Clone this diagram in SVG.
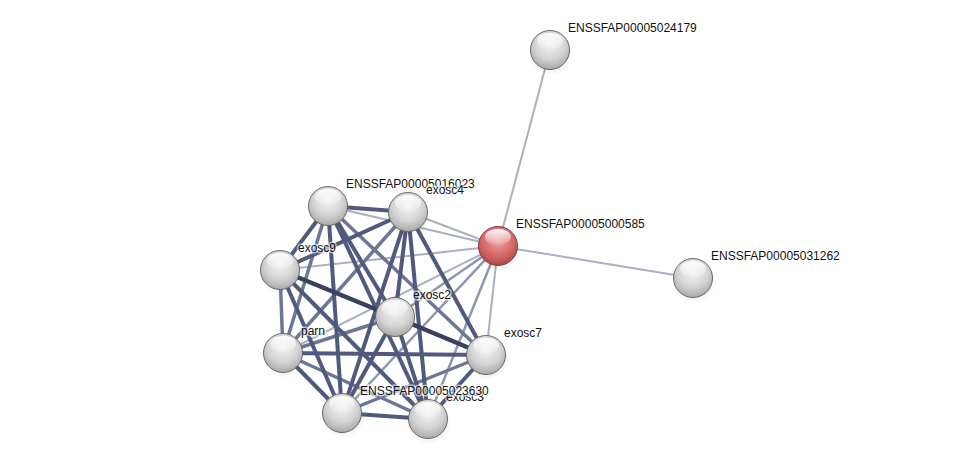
<svg xmlns="http://www.w3.org/2000/svg" width="976" height="465" viewBox="0 0 976 465">
<style>
.e{fill:none;stroke-linecap:butt}
.s{stroke:#394160;stroke-width:4.5}
.m{stroke:#515a7c;stroke-width:4}
.l{stroke:#6e7696;stroke-width:3.5}
.r{stroke:#9096b0;stroke-width:2.5}
.x{stroke:#aab0c2;stroke-width:2}
.lab{font-family:"Liberation Sans",Arial,sans-serif;font-size:12px;fill:#111;stroke:#fff;stroke-width:3;stroke-opacity:0.6;paint-order:stroke}
.n{stroke:#6a6a6a;stroke-width:1}
</style>
<defs>
<radialGradient id="gw" cx="0.5" cy="0.35" r="0.65">
<stop offset="0" stop-color="#f4f4f4"/>
<stop offset="0.6" stop-color="#d4d4d4"/>
<stop offset="1" stop-color="#a8a8a8"/>
</radialGradient>
<radialGradient id="gr" cx="0.5" cy="0.35" r="0.65">
<stop offset="0" stop-color="#f0a4a4"/>
<stop offset="0.6" stop-color="#d66a6a"/>
<stop offset="1" stop-color="#a84a4a"/>
</radialGradient>
<linearGradient id="hl" x1="0" y1="0" x2="0" y2="1">
<stop offset="0" stop-color="#fff" stop-opacity="0.95"/>
<stop offset="1" stop-color="#fff" stop-opacity="0.1"/>
</linearGradient>
<radialGradient id="sh" cx="0.5" cy="0.5" r="0.5">
<stop offset="0" stop-color="#000" stop-opacity="0.25"/>
<stop offset="1" stop-color="#000" stop-opacity="0"/>
</radialGradient>
<g id="ball">
<circle cx="1" cy="3" r="22" fill="url(#sh)"/>
<circle r="19.5" fill="url(#gw)" class="n"/>
<ellipse cx="0" cy="-9" rx="13" ry="8" fill="url(#hl)"/>
</g>
<g id="rball">
<circle cx="1" cy="3" r="22" fill="url(#sh)"/>
<circle r="19.5" fill="url(#gr)" stroke="#8a3a3a" stroke-width="1"/>
<ellipse cx="0" cy="-9" rx="13" ry="8" fill="url(#hl)"/>
</g>
</defs>
<rect width="976" height="465" fill="#fff"/>
<g id="connectors">
<line class="e x" x1="498" y1="246" x2="550" y2="50"/>
<line class="e x" x1="498" y1="246" x2="693" y2="278"/>
<line class="e x" x1="498" y1="246" x2="328" y2="206"/>
<line class="e x" x1="498" y1="246" x2="408" y2="212"/>
<line class="e x" x1="498" y1="246" x2="280" y2="270"/>
<line class="e x" x1="498" y1="246" x2="283" y2="353"/>
<line class="e r" x1="498" y1="246" x2="395" y2="317"/>
<line class="e x" x1="498" y1="246" x2="486" y2="355"/>
<line class="e r" x1="498" y1="246" x2="342" y2="413"/>
<line class="e r" x1="498" y1="246" x2="428" y2="419"/>
<line class="e l" x1="328" y1="206" x2="283" y2="353"/>
<line class="e l" x1="408" y1="212" x2="283" y2="353"/>
<line class="e l" x1="328" y1="206" x2="486" y2="355"/>
<line class="e l" x1="280" y1="270" x2="486" y2="355"/>
<line class="e l" x1="283" y1="353" x2="395" y2="317"/>
<line class="e l" x1="280" y1="270" x2="283" y2="353"/>
<line class="e l" x1="342" y1="413" x2="486" y2="355"/>
<line class="e l" x1="283" y1="353" x2="428" y2="419"/>
<line class="e m" x1="328" y1="206" x2="408" y2="212"/>
<line class="e m" x1="328" y1="206" x2="280" y2="270"/>
<line class="e m" x1="328" y1="206" x2="395" y2="317"/>
<line class="e m" x1="328" y1="206" x2="342" y2="413"/>
<line class="e m" x1="328" y1="206" x2="428" y2="419"/>
<line class="e m" x1="408" y1="212" x2="280" y2="270"/>
<line class="e m" x1="408" y1="212" x2="395" y2="317"/>
<line class="e m" x1="408" y1="212" x2="486" y2="355"/>
<line class="e m" x1="408" y1="212" x2="342" y2="413"/>
<line class="e m" x1="408" y1="212" x2="428" y2="419"/>
<line class="e m" x1="280" y1="270" x2="342" y2="413"/>
<line class="e m" x1="280" y1="270" x2="428" y2="419"/>
<line class="e m" x1="395" y1="317" x2="342" y2="413"/>
<line class="e m" x1="395" y1="317" x2="428" y2="419"/>
<line class="e m" x1="283" y1="353" x2="486" y2="355"/>
<line class="e m" x1="283" y1="353" x2="342" y2="413"/>
<line class="e m" x1="486" y1="355" x2="428" y2="419"/>
<line class="e m" x1="342" y1="413" x2="428" y2="419"/>
<line class="e s" x1="280" y1="270" x2="395" y2="317"/>
<line class="e s" x1="395" y1="317" x2="486" y2="355"/>
</g>
<g id="n_024179"><use href="#ball" x="550" y="50"/><text class="lab" x="568" y="32">ENSSFAP00005024179</text></g>
<g id="n_000585"><use href="#rball" x="498" y="246"/><text class="lab" x="516" y="228">ENSSFAP00005000585</text></g>
<g id="n_031262"><use href="#ball" x="693" y="278"/><text class="lab" x="711" y="260">ENSSFAP00005031262</text></g>
<g id="n_016023"><use href="#ball" x="328" y="206"/><text class="lab" x="346" y="188">ENSSFAP00005016023</text></g>
<g id="n_exosc4"><use href="#ball" x="408" y="212"/><text class="lab" x="426" y="194">exosc4</text></g>
<g id="n_exosc9"><use href="#ball" x="280" y="270"/><text class="lab" x="298" y="252">exosc9</text></g>
<g id="n_exosc2"><use href="#ball" x="395" y="317"/><text class="lab" x="413" y="299">exosc2</text></g>
<g id="n_parn"><use href="#ball" x="283" y="353"/><text class="lab" x="301" y="335">parn</text></g>
<g id="n_exosc7"><use href="#ball" x="486" y="355"/><text class="lab" x="504" y="337">exosc7</text></g>
<g id="n_exosc3"><use href="#ball" x="428" y="419"/><text class="lab" x="446" y="401">exosc3</text></g>
<g id="n_023630"><use href="#ball" x="342" y="413"/><text class="lab" x="360" y="395">ENSSFAP00005023630</text></g>
</svg>
